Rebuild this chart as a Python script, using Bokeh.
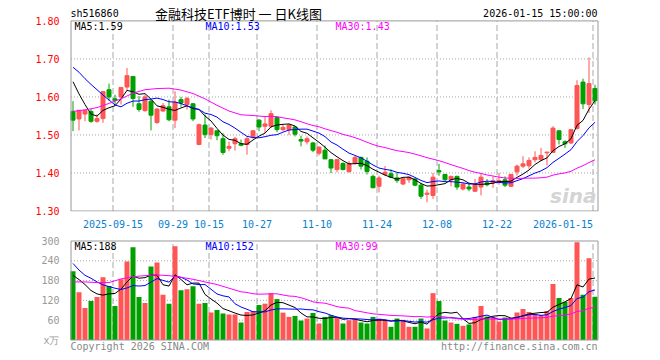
from bokeh.plotting import figure
from bokeh.layouts import column
from bokeh.models import Range1d, FixedTicker, ColumnDataSource, NumeralTickFormatter
from bokeh.core.properties import value
from bokeh.embed import file_html
from bokeh.resources import INLINE

# ---------------- data ----------------
symbol = "sh516860"
chart_title = "金融科技ETF博时 一 日K线图"
stamp = "2026-01-15 15:00:00"
copyright_text = "Copyright 2026 SINA.COM"
site_text = "http://finance.sina.com.cn"
watermark = "sina"

date_labels = ["2025-09-15", "09-29", "10-15", "10-27", "11-10", "11-24", "12-08", "12-22", "2026-01-15"]
date_candles = [7, 17, 23, 31, 41, 51, 61, 71, 87]

opens = [1.562, 1.542, 1.555, 1.562, 1.536, 1.543, 1.619, 1.595, 1.600, 1.626,
         1.654, 1.582, 1.564, 1.589, 1.533, 1.563, 1.574, 1.539, 1.593, 1.580,
         1.582, 1.475, 1.526, 1.501, 1.511, 1.490, 1.465, 1.477, 1.477, 1.475,
         1.495, 1.539, 1.523, 1.523, 1.546, 1.514, 1.514, 1.521, 1.488, 1.482,
         1.479, 1.452, 1.460, 1.435, 1.409, 1.425, 1.404, 1.426, 1.441, 1.431,
         1.391, 1.365, 1.396, 1.398, 1.387, 1.371, 1.382, 1.384, 1.368, 1.344,
         1.341, 1.406, 1.396, 1.382, 1.391, 1.358, 1.363, 1.352, 1.363, 1.374,
         1.374, 1.375, 1.382, 1.365, 1.403, 1.418, 1.419, 1.435, 1.435, 1.453,
         1.454, 1.511, 1.482, 1.479, 1.517, 1.639, 1.580, 1.622]
highs = [1.589, 1.565, 1.565, 1.568, 1.554, 1.614, 1.635, 1.606, 1.625, 1.676,
         1.654, 1.602, 1.606, 1.593, 1.571, 1.584, 1.593, 1.615, 1.600, 1.600,
         1.584, 1.530, 1.554, 1.521, 1.511, 1.505, 1.483, 1.495, 1.488, 1.495,
         1.511, 1.542, 1.549, 1.565, 1.546, 1.527, 1.529, 1.523, 1.498, 1.496,
         1.482, 1.470, 1.472, 1.437, 1.437, 1.428, 1.431, 1.446, 1.443, 1.441,
         1.396, 1.393, 1.418, 1.409, 1.400, 1.387, 1.391, 1.387, 1.374, 1.356,
         1.400, 1.424, 1.398, 1.393, 1.393, 1.374, 1.374, 1.384, 1.398, 1.384,
         1.391, 1.400, 1.391, 1.398, 1.422, 1.444, 1.441, 1.457, 1.466, 1.455,
         1.523, 1.511, 1.486, 1.516, 1.644, 1.648, 1.704, 1.632]
lows = [1.510, 1.512, 1.536, 1.532, 1.532, 1.532, 1.590, 1.577, 1.580, 1.615,
        1.574, 1.561, 1.561, 1.512, 1.529, 1.561, 1.536, 1.518, 1.574, 1.567,
        1.536, 1.473, 1.492, 1.488, 1.486, 1.448, 1.457, 1.459, 1.470, 1.448,
        1.490, 1.510, 1.505, 1.518, 1.507, 1.510, 1.500, 1.496, 1.470, 1.475,
        1.455, 1.446, 1.437, 1.400, 1.402, 1.407, 1.400, 1.422, 1.409, 1.396,
        1.361, 1.349, 1.393, 1.389, 1.374, 1.368, 1.374, 1.365, 1.332, 1.323,
        1.332, 1.393, 1.378, 1.365, 1.356, 1.354, 1.352, 1.350, 1.341, 1.365,
        1.361, 1.369, 1.363, 1.363, 1.393, 1.413, 1.411, 1.428, 1.431, 1.420,
        1.453, 1.475, 1.466, 1.476, 1.514, 1.568, 1.558, 1.580]
closes = [1.539, 1.565, 1.565, 1.536, 1.543, 1.614, 1.600, 1.591, 1.625, 1.656,
          1.596, 1.567, 1.600, 1.552, 1.568, 1.577, 1.540, 1.586, 1.584, 1.596,
          1.542, 1.527, 1.501, 1.518, 1.498, 1.454, 1.470, 1.490, 1.473, 1.490,
          1.511, 1.521, 1.529, 1.556, 1.514, 1.520, 1.526, 1.502, 1.484, 1.490,
          1.460, 1.468, 1.437, 1.413, 1.435, 1.409, 1.425, 1.441, 1.418, 1.404,
          1.361, 1.387, 1.402, 1.389, 1.380, 1.385, 1.389, 1.368, 1.339, 1.347,
          1.389, 1.403, 1.382, 1.391, 1.363, 1.371, 1.358, 1.369, 1.389, 1.369,
          1.380, 1.380, 1.368, 1.396, 1.418, 1.424, 1.433, 1.441, 1.446, 1.455,
          1.518, 1.488, 1.477, 1.514, 1.630, 1.582, 1.635, 1.590]
volumes = [208, 145, 97, 118, 130, 190, 164, 103, 184, 238,
           281, 130, 112, 223, 235, 137, 110, 284, 151, 154,
           163, 110, 112, 83, 91, 80, 77, 77, 53, 85,
           88, 106, 110, 142, 124, 83, 70, 73, 59, 65,
           82, 50, 70, 75, 68, 50, 60, 63, 53, 50,
           70, 65, 60, 40, 65, 61, 40, 40, 65, 35,
           142, 118, 59, 53, 49, 43, 47, 70, 103, 71,
           70, 56, 68, 66, 83, 94, 85, 78, 76, 88,
           170, 127, 116, 127, 296, 137, 248, 131]

price_ticks = [1.30, 1.40, 1.50, 1.60, 1.70, 1.80]
volume_ticks = [0, 60, 120, 180, 240, 300]
volume_unit = "x万"

# moving-average values before the window is complete
ma5_head = [1.640, 1.608, 1.580, 1.555]
ma10_head = [1.678, 1.665, 1.648, 1.633, 1.619, 1.605, 1.592, 1.579, 1.574]
ma30_head_at = [0, 2, 4, 6, 8, 10, 12, 14, 16, 18, 20, 22, 24, 26, 28]
ma30_head = [1.562, 1.566, 1.572, 1.583, 1.595, 1.610, 1.619, 1.622, 1.623, 1.618,
             1.609, 1.595, 1.578, 1.563, 1.553]
vma5_head = [196, 183, 168, 150]
vma10_head = [232, 212, 196, 187, 176, 167, 162, 157, 153]
vma30_head = [176, 176, 174, 174, 185, 192, 195, 197, 195, 190, 184, 176, 168, 157, 146]


def moving_average(vals, n, head, head_at=None):
    if head_at is None:
        head_at = list(range(len(head)))
    xs_, ys_ = list(head_at), list(head)
    for i in range(n - 1, len(vals)):
        xs_.append(i)
        ys_.append(sum(vals[i - n + 1:i + 1]) / n)
    return xs_, ys_


# ---------------- layout constants (page pixels) ----------------
RED = "#ff5555"
GREEN = "#00a000"
GRID_C = "#a8a8a8"
BORDER_C = "#999999"
BLUE_LBL = "#0a7fd0"
MONO = "DejaVu Sans Mono"
CJK = "Noto Sans CJK SC"

W = 660
FR_L, FR_R = 69, 599           # frame edges (slightly outside the drawn border)
BORD_L, BORD_R = 70.5, 597.5   # drawn border
C0 = 72.5                      # page x of first candle centre
PXC = 6                        # pixels per candle
OFF = 1 / 3                    # candle centre offset from its date gridline
N = len(closes)


def X(page_x):
    return OFF + (page_x - C0) / PXC


# price panel: 1.80 at y=20.5, 1.30 at y=211.5 ; figure spans page y 0..230
P1_H, P1_FRAME_BOT = 230, 212
PT, PB = 20.5, 211.5
KP = (price_ticks[-1] - price_ticks[0]) / (PB - PT)


def Y1(page_y):
    return price_ticks[-1] - (page_y - PT) * KP


# volume panel: 300 at y=240.5, 0 at y=339.5 ; figure spans page y 230..360
P2_TOP, P2_H, P2_FRAME_TOP = 230, 130, 239
VT, VB = 240.5, 339.5
KV = (volume_ticks[-1] - volume_ticks[0]) / (VB - VT)


def Y2(page_y):
    return volume_ticks[-1] - (page_y - VT) * KV


xs = [i + OFF for i in range(N)]
colors = [RED if c >= o else GREEN for o, c in zip(opens, closes)]
src = ColumnDataSource(dict(
    x=xs, o=opens, h=highs, l=lows, c=closes,
    top=[max(o, c) for o, c in zip(opens, closes)],
    bottom=[min(o, c) for o, c in zip(opens, closes)],
    color=colors, vol=volumes))


def base_fig(height, top, bottom, yr, x_axis):
    f = figure(width=W, height=height, x_range=Range1d(X(FR_L), X(FR_R)), y_range=Range1d(*yr),
               output_backend="svg", toolbar_location=None, title=None,
               min_border_left=FR_L, min_border_right=W - FR_R,
               min_border_top=top, min_border_bottom=bottom,
               x_axis_location=x_axis, y_axis_location="left")
    f.outline_line_color = None
    f.background_fill_color = "white"
    f.border_fill_color = "white"
    f.grid.visible = False
    f.yaxis.axis_line_color = None
    f.yaxis.major_tick_line_color = None
    f.yaxis.minor_tick_line_color = None
    f.yaxis.major_label_standoff = 4
    f.yaxis.major_label_text_font = MONO
    f.yaxis.major_label_text_font_size = "10px"
    return f


def txt(fig, x, y, s, align, color="black", font=MONO, size="10px", style="normal"):
    fig.text(x=[x], y=[y], text=[s], text_align=align, text_baseline="middle",
             text_color=color, text_font=value(font), text_font_size=size,
             text_font_style=style)


def frame_guides(fig, ylo, yhi, hticks):
    gx = list(date_candles)
    fig.segment(x0=gx, y0=[ylo] * len(gx), x1=gx, y1=[yhi] * len(gx),
                line_color=GRID_C, line_width=1, line_dash="6 3")
    fig.segment(x0=[X(BORD_L)] * len(hticks), y0=hticks, x1=[X(BORD_R)] * len(hticks),
                y1=hticks, line_color=GRID_C, line_width=1, line_dash="1 2")


# ---------------- price panel ----------------
p1 = base_fig(P1_H, 0, P1_H - P1_FRAME_BOT, (Y1(P1_FRAME_BOT), Y1(0)), "below")
p1.yaxis.ticker = FixedTicker(ticks=price_ticks)
p1.yaxis.formatter = NumeralTickFormatter(format="0.00")
p1.yaxis.major_label_text_color = "#ff0000"

label_ticks = list(date_candles)
label_ticks[-1] = round(X(592) - 5)   # last label kept inside the frame
p1.xaxis.ticker = FixedTicker(ticks=label_ticks)
p1.xaxis.major_label_overrides = {t: s for t, s in zip(label_ticks, date_labels)}
p1.xaxis.axis_line_color = None
p1.xaxis.major_tick_line_color = None
p1.xaxis.minor_tick_line_color = None
p1.xaxis.major_label_standoff = 2
p1.xaxis.major_label_text_font = MONO
p1.xaxis.major_label_text_font_size = "10px"
p1.xaxis.major_label_text_color = BLUE_LBL

frame_guides(p1, price_ticks[0], price_ticks[-1], price_ticks[1:-1])

p1.segment(x0="x", y0="l", x1="x", y1="h", line_color="color", line_width=1, source=src)
p1.vbar(x="x", width=4 / PXC, top="top", bottom="bottom", fill_color="color",
        line_color="color", line_width=1, source=src)

ma_specs = [(5, "black", ma5_head, None), (10, "#0000ff", ma10_head, None),
            (30, "#ff00ff", ma30_head, ma30_head_at)]
ma_last = []
for n, col, head, at in ma_specs:
    mx, my = moving_average(closes, n, head, at)
    p1.line([v + OFF for v in mx], my, line_color=col, line_width=1)
    ma_last.append(my[-1])

p1.quad(left=[X(BORD_L)], right=[X(BORD_R)], bottom=[price_ticks[0]], top=[price_ticks[-1]],
        fill_color=None, line_color=BORDER_C, line_width=1)

for (n, col, _, _), val, xpage in zip(ma_specs, ma_last, [74, 205, 335]):
    txt(p1, X(xpage), Y1(26), f"MA{n}:{val:.2f}", "left", col)

txt(p1, X(70), Y1(13), symbol, "left")
txt(p1, X(238), Y1(13), chart_title, "center", font=CJK, size="13px")
txt(p1, X(597), Y1(13), stamp, "right")
txt(p1, X(596), Y1(196), watermark, "right", color="#d4d4d4", font="DejaVu Sans",
    size="20px", style="bold italic")

# ---------------- volume panel ----------------
p2 = base_fig(P2_H, P2_FRAME_TOP - P2_TOP, 0, (Y2(P2_TOP + P2_H), Y2(P2_FRAME_TOP)), None)
p2.x_range = p1.x_range
p2.yaxis.ticker = FixedTicker(ticks=volume_ticks)
p2.yaxis.major_label_overrides = {volume_ticks[0]: volume_unit}
p2.yaxis.major_label_text_color = "#999999"

frame_guides(p2, volume_ticks[0], volume_ticks[-1], volume_ticks[1:-1])

p2.vbar(x="x", width=5 / PXC, top="vol", bottom=0, fill_color="color", line_color=None,
        source=src)

vma_specs = [(5, "black", vma5_head, None), (10, "#0000ff", vma10_head, None),
             (30, "#ff00ff", vma30_head, ma30_head_at)]
vma_last = []
for n, col, head, at in vma_specs:
    mx, my = moving_average(volumes, n, head, at)
    p2.line([v + OFF for v in mx], my, line_color=col, line_width=1)
    vma_last.append(my[-1])

p2.quad(left=[X(BORD_L)], right=[X(BORD_R)], bottom=[volume_ticks[0]], top=[volume_ticks[-1]],
        fill_color=None, line_color=BORDER_C, line_width=1)

for (n, col, _, _), val, xpage in zip(vma_specs, vma_last, [74, 205, 335]):
    txt(p2, X(xpage), Y2(246), f"MA{n}:{val:.0f}", "left", col)

txt(p2, X(70), Y2(346), copyright_text, "left", color="#888888")
txt(p2, X(597), Y2(346), site_text, "right", color="#888888")

layout = column(p1, p2, spacing=0)
open("out.html", "w").write(file_html(layout, INLINE))
